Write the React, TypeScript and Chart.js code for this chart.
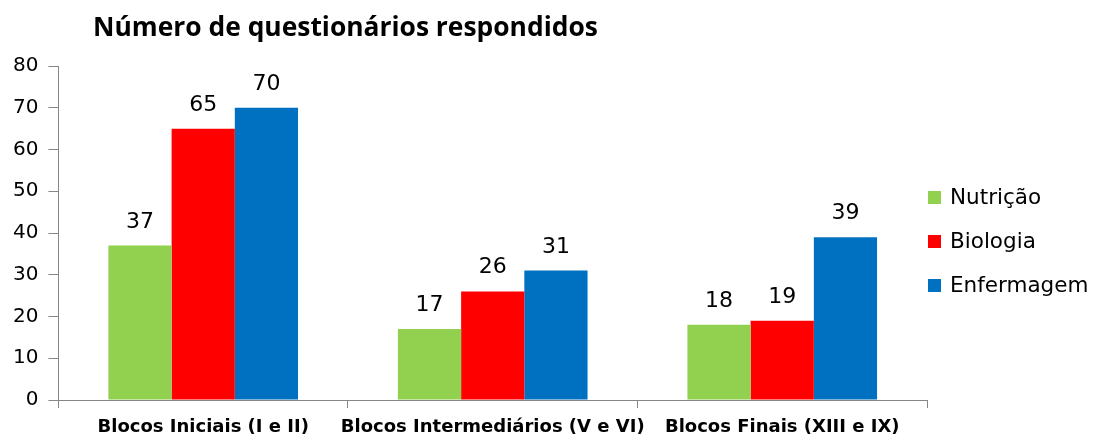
import React, { useEffect, useRef } from "react";
import { Chart, registerables } from "chart.js";

Chart.register(...registerables);

const categories = [
  "Blocos Iniciais (I e II)",
  "Blocos Intermediários (V e VI)",
  "Blocos Finais (XIII e IX)",
];
const seriesNames = ["Nutrição", "Biologia", "Enfermagem"];
const nutricao = [37, 17, 18];
const biologia = [65, 26, 19];
const enfermagem = [70, 31, 39];
const seriesColors = ["#92D050", "#FF0000", "#0070C0"];
const yMin = 0;
const yMax = 80;
const yStep = 10;
const chartTitle = "Número de questionários respondidos";

const titlePlugin = {
  id: "customTitle",
  afterDraw(chart: any) {
    const ctx = chart.ctx;
    ctx.save();
    ctx.font = "bold 26.4px 'Open Sans'";
    ctx.fillStyle = "#000";
    ctx.textAlign = "left";
    ctx.textBaseline = "middle";
    ctx.fillText(chartTitle, 93, 28);
    ctx.restore();
  },
};

const valueLabelPlugin = {
  id: "valueLabels",
  afterDatasetsDraw(chart: any) {
    const ctx = chart.ctx;
    ctx.save();
    ctx.font = "22px 'DejaVu Sans'";
    ctx.fillStyle = "#000";
    ctx.textAlign = "center";
    ctx.textBaseline = "alphabetic";
    chart.data.datasets.forEach((ds: any, i: number) => {
      const meta = chart.getDatasetMeta(i);
      meta.data.forEach((bar: any, j: number) => {
        ctx.fillText(String(ds.data[j]), bar.x, bar.y - 18);
      });
    });
    ctx.restore();
  },
};

const legendPlugin = {
  id: "sideLegend",
  afterDraw(chart: any) {
    const ctx = chart.ctx;
    const x = chart.chartArea.right + 1;
    const startY = 198;
    const gap = 44;
    ctx.save();
    ctx.font = "21.5px 'DejaVu Sans'";
    ctx.textAlign = "left";
    ctx.textBaseline = "middle";
    chart.data.datasets.forEach((ds: any, i: number) => {
      const cy = startY + i * gap;
      ctx.fillStyle = ds.backgroundColor;
      ctx.fillRect(x, cy - 7, 13, 13);
      ctx.fillStyle = "#000";
      ctx.fillText(ds.label, x + 22, cy);
    });
    ctx.restore();
  },
};

export default function App() {
  const canvasRef = useRef<HTMLCanvasElement | null>(null);

  useEffect(() => {
    if (!canvasRef.current) return;
    const chart = new Chart(canvasRef.current, {
      type: "bar",
      data: {
        labels: categories,
        datasets: [
          { label: seriesNames[0], data: nutricao, backgroundColor: seriesColors[0] },
          { label: seriesNames[1], data: biologia, backgroundColor: seriesColors[1] },
          { label: seriesNames[2], data: enfermagem, backgroundColor: seriesColors[2] },
        ].map((d) => ({ ...d, categoryPercentage: 0.655, barPercentage: 1, borderWidth: 0 })),
      },
      options: {
        responsive: true,
        maintainAspectRatio: false,
        animation: false,
        layout: { padding: { left: 3, top: 66, right: 169, bottom: 0 } },
        plugins: {
          legend: { display: false },
          title: { display: false },
          tooltip: { enabled: false },
        },
        scales: {
          x: {
            afterFit: (scale: any) => {
              scale.height = 38;
            },
            grid: {
              offset: true,
              drawOnChartArea: false,
              drawTicks: true,
              tickLength: 8,
              color: "#868686",
            },
            border: { color: "#868686", width: 1 },
            ticks: {
              color: "#000",
              padding: 9,
              font: { family: "'DejaVu Sans'", size: 18, weight: "bold" },
              maxRotation: 0,
              autoSkip: false,
            },
          },
          y: {
            min: yMin,
            max: yMax,
            grid: {
              drawOnChartArea: false,
              drawTicks: true,
              tickLength: 10,
              color: "#868686",
            },
            border: { color: "#868686", width: 1 },
            ticks: {
              stepSize: yStep,
              color: "#000",
              padding: 10,
              font: { family: "'DejaVu Sans'", size: 20 },
            },
          },
        },
      },
      plugins: [titlePlugin, valueLabelPlugin, legendPlugin],
    });
    return () => chart.destroy();
  }, []);

  return (
    <div style={{ position: "absolute", left: 0, top: 0, width: 1096, height: 438, background: "#fff" }}>
      <canvas ref={canvasRef} />
    </div>
  );
}
